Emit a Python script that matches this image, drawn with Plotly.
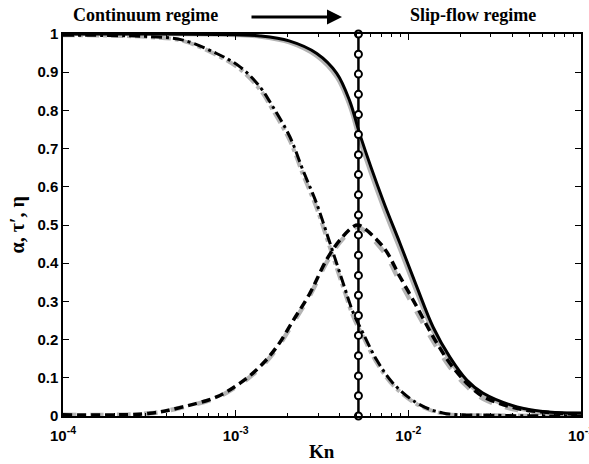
import plotly.graph_objects as go

# ---- data ----
kn_alpha = [1.0e-4, 3.16e-4, 1.0e-3, 1.38e-3, 2.04e-3, 2.95e-3, 3.85e-3, 4.59e-3, 5.25e-3,
            7.13e-3, 8.93e-3, 1.12e-2, 1.39e-2, 1.74e-2, 2.18e-2, 2.70e-2, 4.26e-2, 6.61e-2, 1.0e-1]
alpha_black = [1.0, 1.0, 0.998, 0.995, 0.982, 0.949, 0.897, 0.823, 0.736,
               0.565, 0.453, 0.338, 0.233, 0.154, 0.094, 0.060, 0.024, 0.010, 0.008]
alpha_gray = [1.0, 1.0, 0.997, 0.993, 0.978, 0.942, 0.887, 0.810, 0.720,
              0.548, 0.437, 0.323, 0.222, 0.146, 0.088, 0.055, 0.021, 0.009, 0.006]

kn_tau = [1.0e-4, 3.19e-4, 4.95e-4, 7.76e-4, 1.06e-3, 1.38e-3, 1.64e-3, 2.06e-3, 2.45e-3, 2.94e-3,
          3.52e-3, 4.20e-3, 4.80e-3, 5.48e-3, 6.55e-3, 8.15e-3, 1.12e-2, 1.58e-2, 3.16e-2, 1.0e-1]
tau_black = [0.997, 0.993, 0.984, 0.949, 0.914, 0.862, 0.810, 0.731, 0.644, 0.557,
             0.452, 0.347, 0.270, 0.216, 0.147, 0.086, 0.034, 0.008, 0.002, 0.0]
tau_gray = [0.997, 0.992, 0.982, 0.945, 0.908, 0.855, 0.801, 0.721, 0.633, 0.545,
            0.440, 0.336, 0.260, 0.207, 0.140, 0.081, 0.031, 0.007, 0.002, 0.0]

kn_eta = [1.0e-4, 3.19e-4, 4.95e-4, 7.76e-4, 1.06e-3, 1.38e-3, 1.73e-3, 2.16e-3, 2.69e-3, 3.37e-3,
          4.02e-3, 4.80e-3, 5.13e-3, 7.14e-3, 8.93e-3, 1.12e-2, 1.39e-2, 1.74e-2, 2.18e-2, 2.71e-2,
          4.24e-2, 6.61e-2, 1.0e-1]
eta_black = [0.003, 0.007, 0.024, 0.050, 0.086, 0.129, 0.181, 0.251, 0.321, 0.410,
             0.461, 0.496, 0.500, 0.443, 0.365, 0.286, 0.208, 0.138, 0.086, 0.051,
             0.020, 0.009, 0.005]
eta_gray = [0.003, 0.007, 0.023, 0.048, 0.083, 0.125, 0.176, 0.245, 0.315, 0.403,
            0.455, 0.490, 0.495, 0.432, 0.352, 0.272, 0.196, 0.128, 0.078, 0.045,
            0.016, 0.006, 0.003]

kn_transition = 5.14e-3
transition_y = [0, 0.053, 0.105, 0.158, 0.211, 0.263, 0.316, 0.368, 0.421, 0.474,
                0.526, 0.579, 0.632, 0.684, 0.737, 0.789, 0.842, 0.895, 0.947, 1.0]

x_tickvals = [1e-4, 1e-3, 1e-2, 1e-1]
x_ticktext = ["10<sup>-4</sup>", "10<sup>-3</sup>", "10<sup>-2</sup>", "10<sup>-1</sup>"]
y_tickvals = [0, 0.1, 0.2, 0.3, 0.4, 0.5, 0.6, 0.7, 0.8, 0.9, 1]
y_ticktext = ["0", "0.1", "0.2", "0.3", "0.4", "0.5", "0.6", "0.7", "0.8", "0.9", "1"]

GRAY = "#b4b4b4"
fig = go.Figure()

# gray (behind)
fig.add_trace(go.Scatter(x=kn_tau, y=tau_gray, mode="lines", line=dict(color=GRAY, width=4, dash="dashdot", shape="spline"), cliponaxis=False))
fig.add_trace(go.Scatter(x=kn_eta, y=eta_gray, mode="lines", line=dict(color=GRAY, width=4.5, dash="dash", shape="spline"), cliponaxis=False))
fig.add_trace(go.Scatter(x=kn_alpha, y=alpha_gray, mode="lines", line=dict(color=GRAY, width=4, shape="spline"), cliponaxis=False))

# black
fig.add_trace(go.Scatter(x=kn_tau, y=tau_black, mode="lines", line=dict(color="black", width=3, dash="11px,4px,3px,4px", shape="spline"), cliponaxis=False))
fig.add_trace(go.Scatter(x=kn_eta, y=eta_black, mode="lines", line=dict(color="black", width=3.5, dash="9px,5px", shape="spline"), cliponaxis=False))
fig.add_trace(go.Scatter(x=kn_alpha, y=alpha_black, mode="lines", line=dict(color="black", width=3, shape="spline"), cliponaxis=False))

# transition line
fig.add_trace(go.Scatter(x=[kn_transition] * len(transition_y), y=transition_y, mode="lines+markers",
                         line=dict(color="black", width=2.5),
                         marker=dict(symbol="circle", size=7, color="white", line=dict(color="black", width=2)),
                         cliponaxis=False))

tickfont = dict(family="Liberation Sans", size=15, color="black", weight="bold")
fig.update_xaxes(type="log", range=[-4, -1], tickvals=x_tickvals, ticktext=x_ticktext,
                 ticks="inside", ticklen=6, tickwidth=1, tickcolor="black",
                 showline=True, linecolor="black", linewidth=1.5, mirror="ticks",
                 showgrid=False, zeroline=False, tickfont=tickfont, automargin=False,
                 ticklabeloverflow="allow", ticklabelstandoff=5,
                 minor=dict(ticks="inside", ticklen=3, tickcolor="black", showgrid=False, dtick="D1"))
fig.update_yaxes(range=[0, 1], tickvals=y_tickvals, ticktext=y_ticktext,
                 ticks="inside", ticklen=6, tickwidth=1, tickcolor="black",
                 showline=True, linecolor="black", linewidth=1.5, mirror="ticks",
                 showgrid=False, zeroline=False, tickfont=tickfont, automargin=False)

serif = "Liberation Serif"
fig.update_layout(
    width=589, height=464, showlegend=False,
    margin=dict(l=63, r=8, t=34, b=48),
    paper_bgcolor="white", plot_bgcolor="white",
    annotations=[
        dict(text="Continuum regime", xref="paper", yref="paper", x=0.160, y=1.0497,
             xanchor="center", yanchor="middle",
             showarrow=False, font=dict(family=serif, size=18, color="black", weight="bold")),
        dict(text="Slip-flow regime", xref="paper", yref="paper", x=0.7915, y=1.0497,
             xanchor="center", yanchor="middle",
             showarrow=False, font=dict(family=serif, size=18, color="black", weight="bold")),
        dict(text="", xref="paper", yref="paper", x=0.5386, y=1.0445,
             ax=-92, ay=0, showarrow=True, arrowhead=2, arrowsize=1, arrowwidth=3,
             arrowcolor="black"),
        dict(text="α, τ′, η", xref="paper", yref="paper", x=-0.088, y=0.50,
             xanchor="center", yanchor="middle", textangle=-90, showarrow=False,
             font=dict(family=serif, size=20, color="black", weight="bold")),
        dict(text="Kn", xref="paper", yref="paper", x=0.5, y=-0.094,
             xanchor="center", yanchor="middle",
             showarrow=False, font=dict(family=serif, size=19, color="black", weight="bold")),
    ],
)

fig.write_html("out.html")
